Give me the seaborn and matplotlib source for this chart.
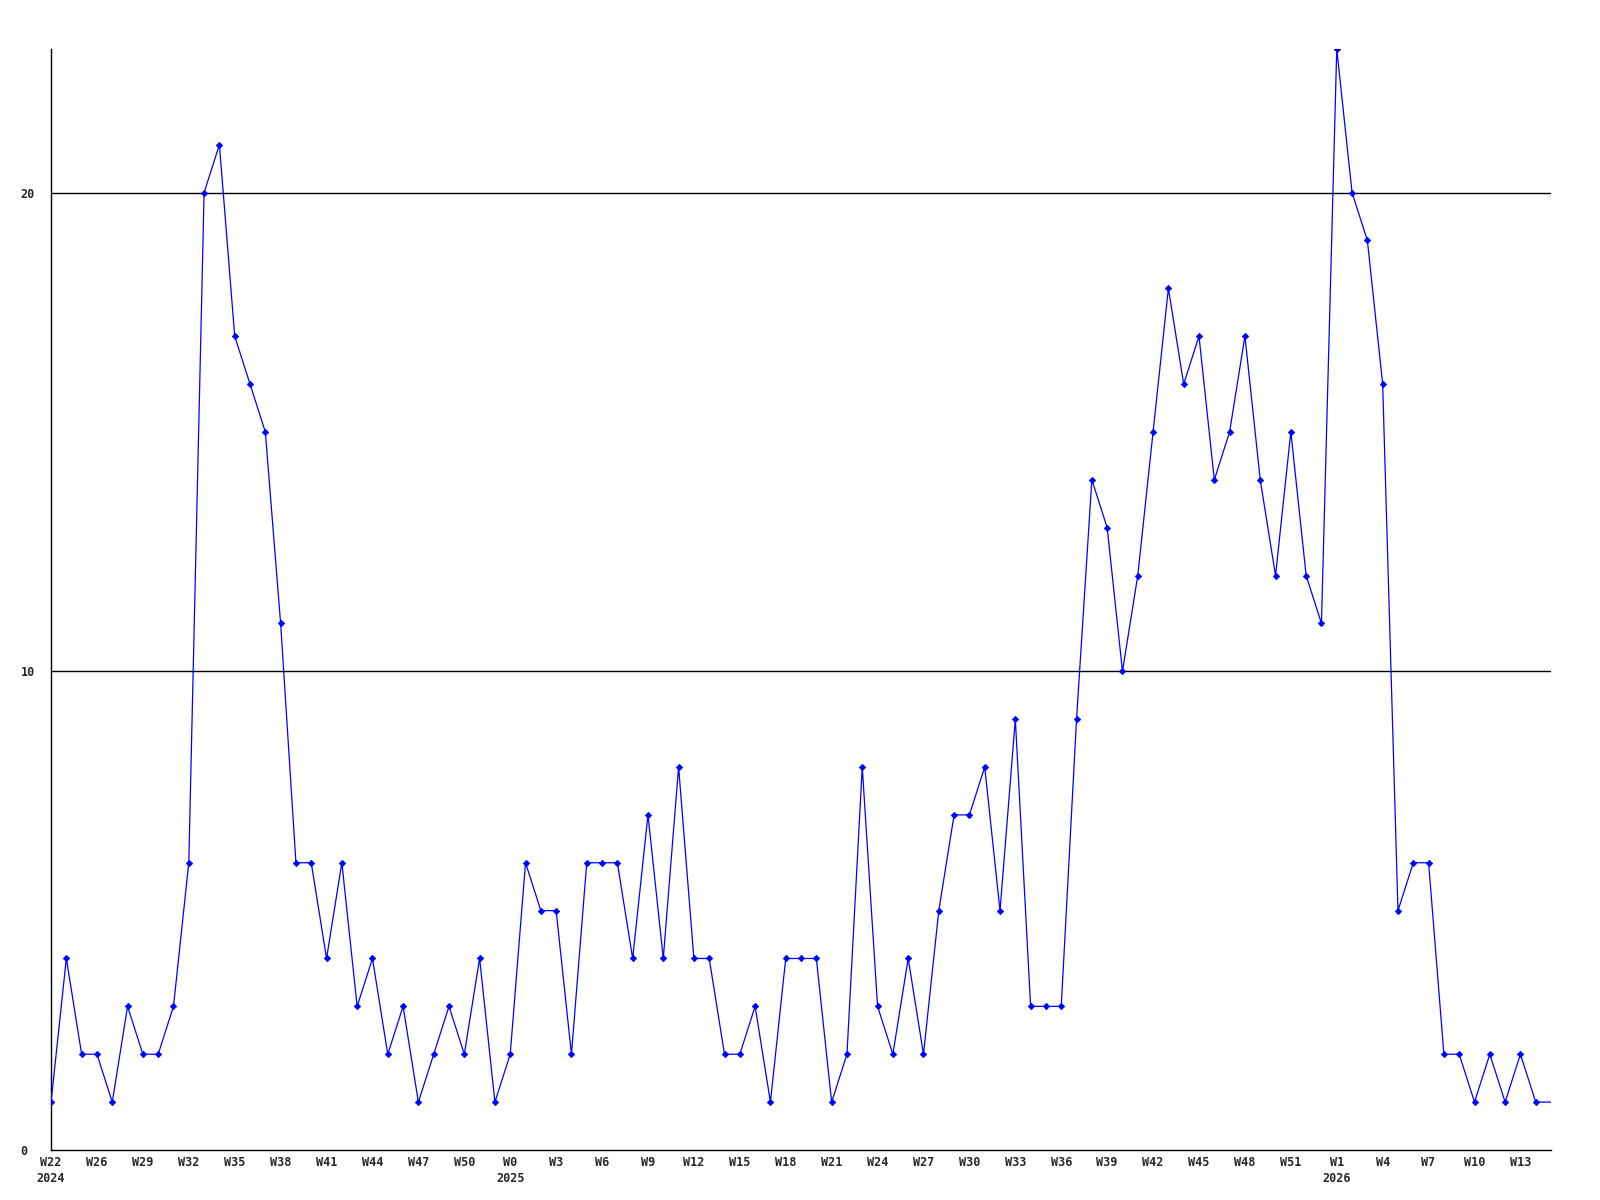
import numpy as np
import pandas as pd
import matplotlib
matplotlib.use("Agg")
import matplotlib.pyplot as plt
import seaborn as sns

# weekly counts, W22 2024 .. W14 2026
counts = [1, 4, 2, 2, 1, 3, 2, 2, 3, 6,
          20, 21, 17, 16, 15, 11, 6, 6, 4, 6,
          3, 4, 2, 3, 1, 2, 3, 2, 4, 1,
          2, 6, 5, 5, 2, 6, 6, 6, 4, 7,
          4, 8, 4, 4, 2, 2, 3, 1, 4, 4,
          4, 1, 2, 8, 3, 2, 4, 2, 5, 7,
          7, 8, 5, 9, 3, 3, 3, 9, 14, 13,
          10, 12, 15, 18, 16, 17, 14, 15, 17, 14,
          12, 15, 12, 11, 23, 20, 19, 16, 5, 6,
          6, 2, 2, 1, 2, 1, 2, 1, 1]

tick_pos = [0, 3, 6, 9, 12, 15, 18, 21, 24, 27, 30, 33, 36, 39, 42, 45, 48,
            51, 54, 57, 60, 63, 66, 69, 72, 75, 78, 81, 84, 87, 90, 93, 96]
tick_weeks = ["W22", "W26", "W29", "W32", "W35", "W38", "W41", "W44", "W47",
              "W50", "W0", "W3", "W6", "W9", "W12", "W15", "W18", "W21", "W24",
              "W27", "W30", "W33", "W36", "W39", "W42", "W45", "W48", "W51",
              "W1", "W4", "W7", "W10", "W13"]
year_marks = {"W22": "2024", "W0": "2025", "W1": "2026"}

df = pd.DataFrame({"week": np.arange(len(counts)), "count": counts})

sns.set_style("white")
plt.rcParams["font.family"] = ["DejaVu Sans Mono"]
plt.rcParams["font.weight"] = "bold"

fig = plt.figure(figsize=(16, 12), dpi=100)
ax = fig.add_axes([0.0319, 0.0417, 0.9375, 0.9175])

ax.axhline(10, color="black", lw=1.0, zorder=1)
ax.axhline(20, color="black", lw=1.0, zorder=1)

sns.lineplot(data=df, x="week", y="count", ax=ax, color="#0000ff",
             linewidth=0.9, marker="D", markersize=3.2, markeredgewidth=0.6,
             markeredgecolor="#0000ff", markevery=list(range(len(counts) - 1)),
             zorder=3)

ax.set_xlim(0, len(counts) - 1)
ax.set_ylim(0, 23)

labels = [w + ("\n" + year_marks[w] if w in year_marks else "\n") for w in tick_weeks]
ax.set_xticks(tick_pos)
ax.set_xticklabels(labels, fontsize=8.5, fontweight="bold", linespacing=1.3)
ax.set_yticks([0, 10, 20])
ax.set_yticklabels(["0", "10", "20"], fontsize=8.5, fontweight="bold", ha="left")
ax.tick_params(axis="x", length=0, pad=4)
ax.tick_params(axis="y", length=0, pad=22)

ax.set_xlabel("")
ax.set_ylabel("")
for s in ["top", "right"]:
    ax.spines[s].set_visible(False)
for s in ["left", "bottom"]:
    ax.spines[s].set_color("black")
    ax.spines[s].set_linewidth(1.0)

fig.savefig("out.png", dpi=100)
